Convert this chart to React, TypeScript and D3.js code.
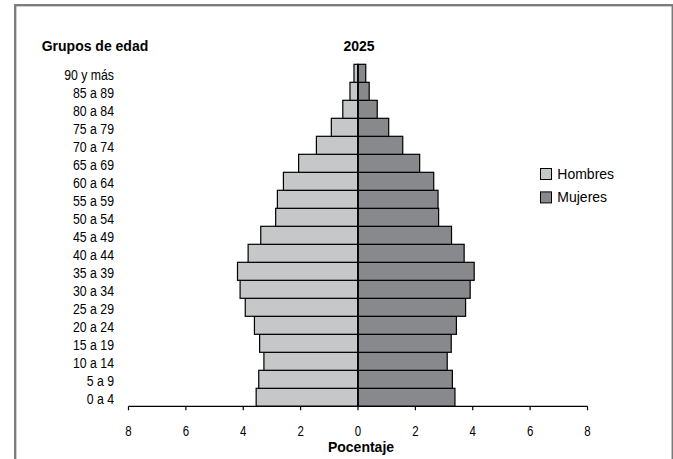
import React from "react";
import * as d3 from "d3";

const categories = ["0 a 4","5 a 9","10 a 14","15 a 19","20 a 24","25 a 29","30 a 34","35 a 39","40 a 44","45 a 49","50 a 54","55 a 59","60 a 64","65 a 69","70 a 74","75 a 79","80 a 84","85 a 89","90 y más"];
const hombres = [3.55,3.46,3.28,3.43,3.61,3.93,4.11,4.20,3.83,3.39,2.87,2.81,2.60,2.07,1.45,0.93,0.53,0.28,0.14];
const mujeres = [3.38,3.29,3.11,3.25,3.43,3.75,3.91,4.05,3.70,3.26,2.81,2.79,2.64,2.15,1.56,1.07,0.67,0.39,0.27];
const tickValues = [-8,-6,-4,-2,0,2,4,6,8];
const seriesNames = ["Hombres","Mujeres"];
const seriesColors = ["#c6c7c9","#88898c"];
const title = "2025";
const yTitle = "Grupos de edad";
const xTitle = "Pocentaje";

const W = 673, H = 459;
const SANS = "'Liberation Sans', Arial, sans-serif";

export default function App() {
  const x = d3.scaleLinear().domain([-8, 8]).range([128.5, 587.5]);
  const y = d3.scaleBand<string>().domain([...categories].reverse()).range([64.3, 406.3]).padding(0);
  const axisY = 406.3;
  const bw = y.bandwidth();
  return (
    <svg width={W} height={H} style={{ position: "absolute", left: 0, top: 0, background: "#fff" }}>
      <rect x={0} y={0} width={W} height={H} fill="#fff" />
      <rect x={15.2} y={5.2} width={657.5} height={500} fill="none" stroke="#7a7a7a" strokeWidth={2.3} />
      <text x={41.7} y={50.7} fontFamily={SANS} fontWeight="bold" fontSize={14} fill="#000">{yTitle}</text>
      <text x={359} y={50.7} fontFamily={SANS} fontWeight="bold" fontSize={14} fill="#000" textAnchor="middle">{title}</text>
      {categories.map((c, i) => (
        <g key={c}>
          <rect x={x(-hombres[i])} y={y(c)!} width={x(0) - x(-hombres[i])} height={bw} fill={seriesColors[0]} stroke="#000" strokeWidth={1.2} />
          <rect x={x(0)} y={y(c)!} width={x(mujeres[i]) - x(0)} height={bw} fill={seriesColors[1]} stroke="#000" strokeWidth={1.2} />
          <text transform={`translate(114,${y(c)! + bw / 2 + 6.5}) scale(0.82,1)`} fontFamily={SANS} fontSize={15} textAnchor="end" fill="#000">{c}</text>
        </g>
      ))}
      <line x1={x(0)} x2={x(0)} y1={64.3} y2={axisY} stroke="#000" strokeWidth={1.6} />
      <line x1={x(-8)} x2={x(8)} y1={axisY} y2={axisY} stroke="#000" strokeWidth={1.2} />
      {tickValues.map(t => (
        <g key={t}>
          <line x1={x(t)} x2={x(t)} y1={axisY} y2={axisY + 4} stroke="#000" strokeWidth={1.2} />
          <text transform={`translate(${x(t)},436) scale(0.82,1)`} fontFamily={SANS} fontSize={14} textAnchor="middle" fill="#000">{Math.abs(t)}</text>
        </g>
      ))}
      <text x={361} y={452.3} fontFamily={SANS} fontWeight="bold" fontSize={14} textAnchor="middle" fill="#000">{xTitle}</text>
      {seriesNames.map((s, i) => (
        <g key={s}>
          <rect x={540.5} y={168.5 + i * 23.4} width={11} height={11} fill={seriesColors[i]} stroke="#000" strokeWidth={1} />
          <text x={557.3} y={179.3 + i * 22.4} fontFamily={SANS} fontSize={14} fill="#000">{s}</text>
        </g>
      ))}
    </svg>
  );
}
